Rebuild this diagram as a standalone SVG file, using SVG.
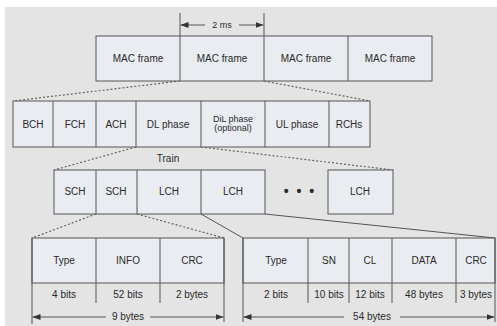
<svg xmlns="http://www.w3.org/2000/svg" width="497" height="326" viewBox="0 0 497 326">
<defs>
<style>
.box{fill:#e9edf1;stroke:#555;stroke-width:1}
.ln{stroke:#555;stroke-width:1;fill:none}
.dot{stroke:#666;stroke-width:1.2;stroke-dasharray:2,2;fill:none}
text{font-family:"Liberation Sans","Open Sans",sans-serif;font-size:10px;fill:#2a2a2a;text-anchor:middle}
.sm{font-size:9px}
</style>
<marker id="ah" viewBox="0 0 8 6" refX="8" refY="3" markerWidth="8" markerHeight="6" orient="auto-start-reverse" markerUnits="userSpaceOnUse">
<path d="M0,0 L8,3 L0,6 z" fill="#333"/>
</marker>
</defs>
<rect x="0" y="0" width="497" height="326" fill="#fff"/>
<rect x="5" y="7" width="492" height="319" fill="#e4e4e4"/>

<g id="connectors">
<path class="dot" d="M180,81 L13,101 M264,81 L370,101"/>
<path class="dot" d="M136,147 L54,170 M201,147 L393,170"/>
<path class="dot" d="M96,214 L32,238 M137,214 L224,238"/>
<path class="ln" d="M201,214 L243,238 M265,214 L495,238"/>
</g>

<g id="timing">
<path class="ln" d="M180,13 V36 M264,13 V36"/>
<path class="ln" d="M205,25 H180.5" marker-end="url(#ah)"/>
<path class="ln" d="M239,25 H263.5" marker-end="url(#ah)"/>
<text x="222" y="28" class="sm">2 ms</text>
</g>

<g id="mac-frames">
<rect class="box" x="96" y="36" width="336" height="45"/>
<path class="ln" d="M180,36 V81 M264,36 V81 M348,36 V81"/>
<text x="138" y="62">MAC frame</text>
<text x="222" y="62">MAC frame</text>
<text x="306" y="62">MAC frame</text>
<text x="390" y="62">MAC frame</text>
</g>

<g id="mac-frame-structure">
<rect class="box" x="13" y="101" width="357" height="46"/>
<path class="ln" d="M53,101 V147 M96,101 V147 M136,101 V147 M201,101 V147 M265,101 V147 M329,101 V147"/>
<text x="33" y="128">BCH</text>
<text x="75" y="128">FCH</text>
<text x="116" y="128">ACH</text>
<text x="168" y="128">DL phase</text>
<text x="233" y="122" class="sm">DiL phase</text>
<text x="233" y="131" class="sm">(optional)</text>
<text x="297" y="128">UL phase</text>
<text x="349" y="128">RCHs</text>
</g>

<g id="train">
<text x="168" y="162">Train</text>
<rect class="box" x="54" y="170" width="211" height="44"/>
<path class="ln" d="M96,170 V214 M137,170 V214 M201,170 V214"/>
<text x="75" y="195">SCH</text>
<text x="116" y="195">SCH</text>
<text x="169" y="195">LCH</text>
<text x="233" y="195">LCH</text>
<text x="300" y="196" style="font-size:14px;font-weight:bold;letter-spacing:2px">• • •</text>
<rect class="box" x="328" y="170" width="65" height="44"/>
<text x="360" y="195">LCH</text>
</g>

<g id="sch-format">
<rect class="box" x="32" y="238" width="192" height="45"/>
<path class="ln" d="M96,238 V303 M160,238 V303 M32,238 V324 M224,238 V322"/>
<text x="64" y="264">Type</text>
<text x="128" y="264">INFO</text>
<text x="192" y="264">CRC</text>
<text x="64" y="298">4 bits</text>
<text x="128" y="298">52 bits</text>
<text x="192" y="298">2 bytes</text>
<path class="ln" d="M106,317 H32.5" marker-end="url(#ah)"/>
<path class="ln" d="M150,317 H223.5" marker-end="url(#ah)"/>
<text x="128" y="320">9 bytes</text>
</g>

<g id="lch-format">
<rect class="box" x="243" y="238" width="252" height="45"/>
<path class="ln" d="M308,238 V303 M349,238 V303 M392,238 V303 M456,238 V303 M243,238 V322 M495,238 V322"/>
<text x="276" y="264">Type</text>
<text x="329" y="264">SN</text>
<text x="370" y="264">CL</text>
<text x="424" y="264">DATA</text>
<text x="476" y="264">CRC</text>
<text x="276" y="298">2 bits</text>
<text x="329" y="298">10 bits</text>
<text x="370" y="298">12 bits</text>
<text x="424" y="298">48 bytes</text>
<text x="476" y="298">3 bytes</text>
<path class="ln" d="M344,317 H243.5" marker-end="url(#ah)"/>
<path class="ln" d="M400,317 H494.5" marker-end="url(#ah)"/>
<text x="372" y="320">54 bytes</text>
</g>
</svg>
